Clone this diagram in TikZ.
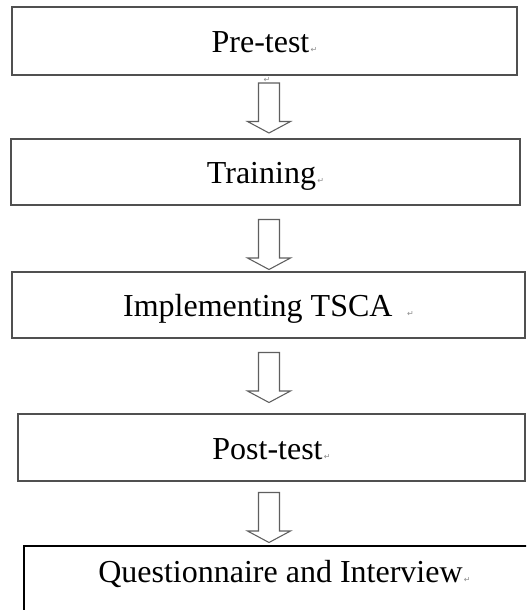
\documentclass[tikz,border=0pt]{standalone}
\usepackage{fontspec}
\setmainfont{Liberation Serif}
\newfontfamily\markfont{DejaVu Sans}
\usepackage{xcolor}
\usetikzlibrary{positioning, calc}
\definecolor{boxLine}{RGB}{80,80,80}
\definecolor{arrowLine}{RGB}{95,95,95}
\definecolor{markGray}{RGB}{140,140,140}
\newcommand{\pmark}{{\markfont\fontsize{6}{6}\selectfont\color{markGray}\,↵}}
\newcommand{\hollowarrow}[3]{%
    \path ($(#1.south)!0.5!(#2.north)$) coordinate (gapmid);
    \path (gapmid -| axis) coordinate (amid);
    \draw[hollow] ($(amid)+(-10.5,#3-25)$) -- ++(0,38.5) -- ++(-11,0) -- ++(21.5,11.5)
        -- ++(21.5,-11.5) -- ++(-11,0) -- ++(0,-38.5) -- cycle;
}
\tikzset{
    stagebox/.style={
        rectangle,
        draw=boxLine,
        line width=1.4pt,
        outer sep=0pt,
        inner sep=0pt,
        align=center,
        text height=17.25pt,
        text depth=0pt,
        font=\fontsize{24}{28}\selectfont
    },
    hollow/.style={draw=arrowLine, line width=0.8pt, fill=white, line join=miter},
    markonly/.style={inner sep=0pt, font=\markfont\fontsize{6}{6}\selectfont, text=markGray}
}

\begin{document}
\begin{tikzpicture}[x=0.75pt, y=-0.75pt]
        \clip (0,0) rectangle (526,610);
        \coordinate (axis) at (269,0);

        \node[stagebox, minimum width=378.75pt, minimum height=51pt] (pre) at (264.5,41) {Pre-test\pmark};
        \node[stagebox, minimum width=381.75pt, minimum height=49.5pt, below=48pt of pre, xshift=0.75pt] (train) {Training\pmark};
        \node[stagebox, minimum width=384.75pt, minimum height=49.5pt, below=50.25pt of train, xshift=2.25pt] (tsca) {Implementing TSCA\hspace{10pt}\pmark};
        \node[stagebox, minimum width=380.25pt, minimum height=50.25pt, below=57pt of tsca, xshift=2.25pt] (post) {Post-test\pmark};
        \node[stagebox, draw=black, line width=0.9pt, text depth=13.5pt, minimum width=390.75pt, minimum height=50.25pt, below=48.75pt of post, xshift=9.75pt] (quest) {Questionnaire and Interview\pmark};

        \hollowarrow{pre}{train}{1}
        \hollowarrow{train}{tsca}{6}
        \hollowarrow{tsca}{post}{1.5}
        \hollowarrow{post}{quest}{4}

        \node[markonly] (gapmark) at (267,80) {↵};
    \end{tikzpicture}
\end{document}
